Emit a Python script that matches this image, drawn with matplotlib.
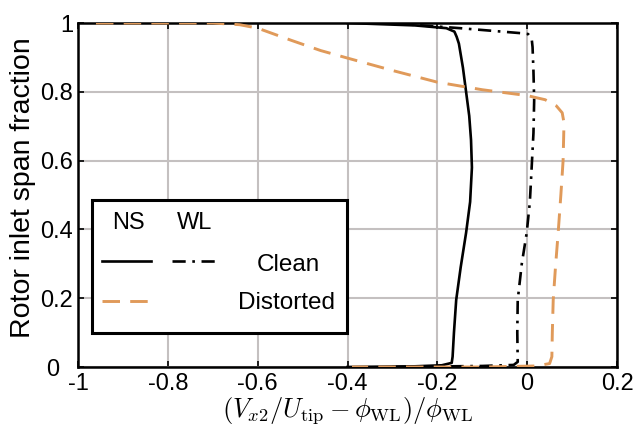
import numpy as np
import matplotlib
matplotlib.use('Agg')
import matplotlib.pyplot as plt
import matplotlib.transforms as mtransforms
from matplotlib.patches import Rectangle
from matplotlib.lines import Line2D

plt.rcParams['font.family'] = ['Liberation Sans', 'DejaVu Sans']
plt.rcParams['mathtext.fontset'] = 'cm'

# NS, clean inlet (solid)
ns_clean_x = [-0.40, -0.25, -0.19, -0.168, -0.166, -0.163, -0.158, -0.148, -0.136, -0.127,
              -0.123, -0.125, -0.129, -0.136, -0.143, -0.152, -0.157, -0.162, -0.18, -0.25, -0.40]
ns_clean_y = [0.0, 0.002, 0.005, 0.012, 0.03, 0.10, 0.195, 0.29, 0.39, 0.48,
              0.58, 0.66, 0.73, 0.80, 0.87, 0.94, 0.96, 0.975, 0.985, 0.993, 1.0]

# WL, clean inlet (dash-dot)
wl_clean_x = [-0.30, -0.10, -0.03, -0.021, -0.022, -0.021, -0.012, -0.001, 0.006, 0.010,
              0.014, 0.0156, 0.014, 0.012, 0.010, 0.002, -0.01, -0.15, -0.31]
wl_clean_y = [0.0, 0.003, 0.006, 0.015, 0.10, 0.195, 0.30, 0.39, 0.48, 0.58,
              0.68, 0.775, 0.86, 0.93, 0.955, 0.968, 0.97, 0.985, 1.0]

# NS, distorted inlet (dashed)
ns_dist_x = [-0.96, -0.70, -0.64, -0.60, -0.526, -0.46, -0.40, -0.30, -0.20, -0.10, 0.0,
             0.04, 0.065, 0.078, 0.082, 0.080, 0.075, 0.069, 0.063, 0.058, 0.056, 0.055,
             0.05, 0.02, -0.10, -0.39]
ns_dist_y = [1.0, 1.0, 0.995, 0.985, 0.95, 0.92, 0.898, 0.862, 0.828, 0.806, 0.789,
             0.777, 0.759, 0.739, 0.71, 0.60, 0.50, 0.39, 0.29, 0.195, 0.10, 0.03,
             0.01, 0.003, 0.0, 0.0]

x_ticks = [-1, -0.8, -0.6, -0.4, -0.2, 0, 0.2]
x_tick_labels = ['-1', '-0.8', '-0.6', '-0.4', '-0.2', '0', '0.2']
y_ticks = [0, 0.2, 0.4, 0.6, 0.8, 1]
y_tick_labels = ['0', '0.2', '0.4', '0.6', '0.8', '1']

orange = '#E09A5A'
W, H = 634, 432
dashdot = (0, (5, 2.5, 1, 2.5))
dashed = (0, (6, 3.5))

fig = plt.figure(figsize=(6.34, 4.32), dpi=100)
ax = fig.add_axes([78 / W, 1 - 367 / H, 539 / W, 344 / H])

ax.plot(ns_clean_x, ns_clean_y, color='black', lw=1.9, zorder=3)
ax.plot(wl_clean_x, wl_clean_y, color='black', lw=1.9, ls=dashdot, zorder=3)
ax.plot(ns_dist_x, ns_dist_y, color=orange, lw=2.1, ls=dashed, zorder=4)

ax.set_xlim(-1, 0.2)
ax.set_ylim(0, 1)
ax.set_xticks(x_ticks)
ax.set_xticklabels(x_tick_labels)
ax.set_yticks(y_ticks)
ax.set_yticklabels(y_tick_labels)
ax.grid(True, color='#C4C0C0', lw=1.5)
ax.set_axisbelow(True)
ax.tick_params(direction='in', length=4, width=1.2, labelsize=17, top=True, right=True)
ax.tick_params(axis='y', pad=3.5)
ax.tick_params(axis='x', pad=4)
for s in ax.spines.values():
    s.set_linewidth(1.8)

# the "0" on y sits a bit further left, clear of "-1"
lbl0 = ax.get_yticklabels()[0]
lbl0.set_transform(lbl0.get_transform() + mtransforms.ScaledTranslation(-10 / 72, 0, fig.dpi_scale_trans))

ax.set_xlabel(r'$(V_{x2}/U_{\rm tip}-\phi_{\rm WL})/\phi_{\rm WL}$', fontsize=19, labelpad=0)
ax.set_ylabel('Rotor inlet span fraction', fontsize=20.5)
ax.yaxis.set_label_coords(-0.078, 0.52)

# custom legend box (figure pixel coordinates)
def fx(px):
    return px / W

def fy(py):
    return 1 - py / H

box = Rectangle((fx(92), fy(333)), (347 - 92) / W, (333 - 200) / H, transform=fig.transFigure,
                facecolor='white', edgecolor='black', lw=2.2, zorder=10)
fig.patches.append(box)
fig.text(fx(128), fy(223), 'NS', ha='center', va='center', fontsize=17, zorder=11)
fig.text(fx(195), fy(223), 'WL', ha='center', va='center', fontsize=17, zorder=11)
fig.text(fx(288), fy(265), 'Clean', ha='center', va='center', fontsize=17.5, zorder=11)
fig.text(fx(287), fy(303), 'Distorted', ha='center', va='center', fontsize=17.5, zorder=11)
fig.lines.append(Line2D([fx(102), fx(151)], [fy(261), fy(261)], transform=fig.transFigure,
                        color='black', lw=1.9, zorder=11))
fig.lines.append(Line2D([fx(172), fx(217)], [fy(261), fy(261)], transform=fig.transFigure,
                        color='black', lw=1.9, ls=dashdot, zorder=11))
fig.lines.append(Line2D([fx(102), fx(151)], [fy(301), fy(301)], transform=fig.transFigure,
                        color=orange, lw=2.1, ls=dashed, zorder=11))

fig.savefig('out.png', dpi=100)
